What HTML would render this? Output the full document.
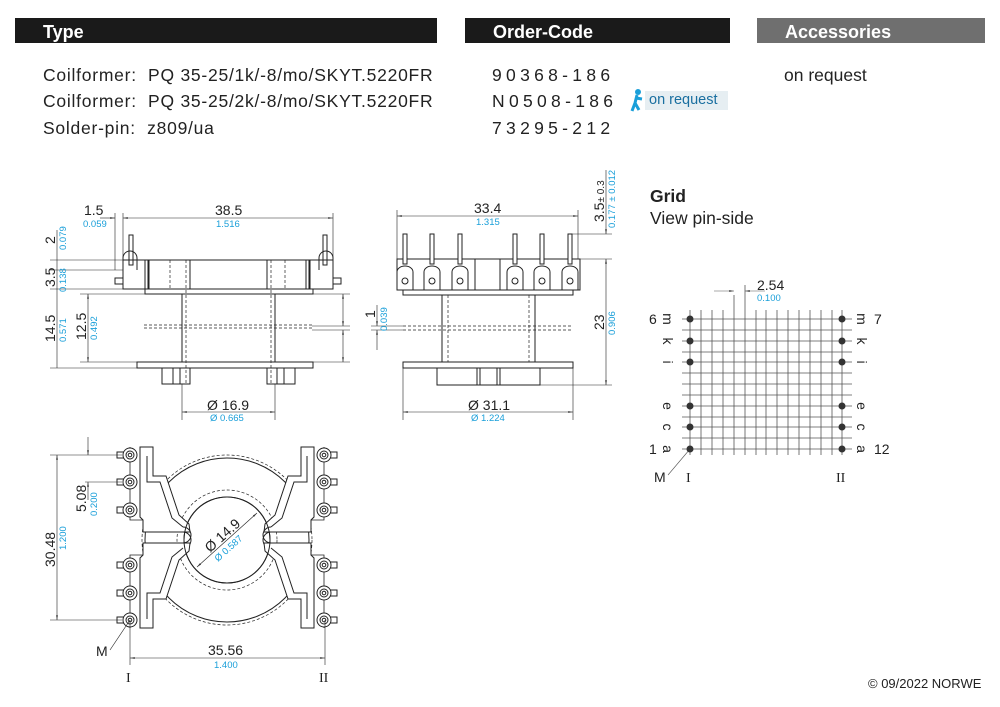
<!DOCTYPE html>
<html><head><meta charset="utf-8"><style>
html,body{margin:0;padding:0;background:#fff;}
body{width:1000px;height:707px;overflow:hidden;position:relative;font-family:"Liberation Sans",sans-serif;}
.bar{position:absolute;top:18px;height:25px;background:#1a1a1a;color:#fff;font-weight:bold;font-size:18px;line-height:28px;box-sizing:border-box;padding-left:28px;}
.t{position:absolute;font-size:17.5px;color:#222;white-space:nowrap;letter-spacing:0.75px;}
.code{letter-spacing:4.3px;}
</style></head><body>
<div class="bar" style="left:15px;width:422px;">Type</div>
<div class="bar" style="left:465px;width:265px;">Order-Code</div>
<div class="bar" style="left:757px;width:228px;background:#6f6f6f;">Accessories</div>
<div class="t" style="left:43px;top:65px;">Coilformer:&nbsp; PQ 35-25/1k/-8/mo/SKYT.5220FR</div>
<div class="t" style="left:43px;top:91px;">Coilformer:&nbsp; PQ 35-25/2k/-8/mo/SKYT.5220FR</div>
<div class="t" style="left:43px;top:118px;">Solder-pin:&nbsp; z809/ua</div>
<div class="t code" style="left:492px;top:65px;">90368-186</div>
<div class="t code" style="left:492px;top:91px;">N0508-186</div>
<div class="t code" style="left:492px;top:118px;">73295-212</div>
<div class="t" style="left:784px;top:65px;letter-spacing:0;">on request</div>
<div style="position:absolute;left:645px;top:91px;width:83px;height:19px;background:#e6eef2;color:#1a6fa0;font-size:14.5px;line-height:19px;padding-left:4px;box-sizing:border-box;">on request</div>
<svg style="position:absolute;left:627px;top:88px" width="20" height="26"><circle cx="11" cy="4" r="3" fill="#1a9fd9"/><path d="M10 7 L8 15 L5 23 M8 15 L12 22 M9 10 L15 11" stroke="#1a9fd9" stroke-width="3" fill="none"/></svg>
<div class="t" style="left:650px;top:186px;font-weight:bold;letter-spacing:0;">Grid</div>
<div class="t" style="left:650px;top:208px;letter-spacing:0;">View pin-side</div>
<div class="t" style="left:868px;top:676px;font-size:13px;letter-spacing:0;">© 09/2022 NORWE</div>

<svg style="position:absolute;left:0;top:0" width="1000" height="707" viewBox="0 0 1000 707" font-family="Liberation Sans, sans-serif">
<defs>
<marker id="a" markerWidth="8" markerHeight="6" refX="8" refY="3" orient="auto-start-reverse"><path d="M0,1.5 L8,3 L0,4.5z" fill="#333"/></marker>
</defs>
<g stroke="#222" stroke-width="1" fill="none">
<!-- SIDE VIEW -->
<line x1="123" y1="213" x2="123" y2="260" stroke-width=".6"/>
<line x1="333" y1="213" x2="333" y2="260" stroke-width=".6"/>
<line x1="115" y1="213" x2="115" y2="270" stroke-width=".6"/>
<line x1="123" y1="218" x2="333" y2="218" stroke-width=".6" marker-start="url(#a)" marker-end="url(#a)"/>
<line x1="100" y1="218" x2="115" y2="218" stroke-width=".6" marker-end="url(#a)"/>
<rect x="129" y="235" width="4" height="30"/><rect x="323" y="235" width="4" height="30"/>
<path d="M123 270 v-12 a7 7 0 0 1 14 0 v12 M319 270 v-12 a7 7 0 0 1 14 0 v12"/>
<rect x="115" y="278" width="8" height="6"/><rect x="333" y="278" width="8" height="6"/>
<rect x="123" y="260" width="210" height="29"/>
<rect x="148" y="260" width="42" height="29" fill="#fff"/><rect x="267" y="260" width="42" height="29" fill="#fff"/>
<rect x="145" y="260" width="4" height="29"/><rect x="306" y="260" width="4" height="29"/>
<rect x="145" y="289" width="168" height="5"/>
<line x1="182" y1="294" x2="182" y2="362"/><line x1="275" y1="294" x2="275" y2="362"/>
<g stroke-dasharray="3,2" stroke-width=".7"><line x1="186" y1="260" x2="186" y2="384"/><line x1="271" y1="260" x2="271" y2="384"/><line x1="144" y1="328" x2="312" y2="328"/><line x1="144" y1="325" x2="312" y2="325"/><line x1="170" y1="260" x2="170" y2="289"/><line x1="285" y1="260" x2="285" y2="289"/></g>
<rect x="137" y="362" width="176" height="6"/>
<rect x="162" y="368" width="28" height="16"/><rect x="267" y="368" width="28" height="16"/>
<line x1="173" y1="368" x2="173" y2="384"/><line x1="180" y1="368" x2="180" y2="384"/><line x1="277" y1="368" x2="277" y2="384"/><line x1="284" y1="368" x2="284" y2="384"/>
<g stroke-width=".6">
<line x1="50" y1="260" x2="123" y2="260"/><line x1="50" y1="270" x2="123" y2="270"/><line x1="50" y1="289" x2="123" y2="289"/><line x1="50" y1="368" x2="137" y2="368"/>
<line x1="57" y1="230" x2="57" y2="368"/>
<line x1="80" y1="294" x2="350" y2="294"/><line x1="80" y1="362" x2="350" y2="362"/>
<line x1="88" y1="294" x2="88" y2="362" marker-start="url(#a)" marker-end="url(#a)"/>
<line x1="343" y1="294" x2="343" y2="326" marker-start="url(#a)" marker-end="url(#a)"/>
<line x1="343" y1="330" x2="343" y2="362" marker-start="url(#a)" marker-end="url(#a)"/>
<line x1="312" y1="326" x2="350" y2="326"/><line x1="312" y1="330" x2="350" y2="330"/>
<line x1="182" y1="384" x2="182" y2="420"/><line x1="275" y1="384" x2="275" y2="420"/>
<line x1="182" y1="412" x2="275" y2="412" marker-start="url(#a)" marker-end="url(#a)"/>
</g>
<!-- FRONT VIEW -->
<g stroke-width=".6">
<line x1="397" y1="210" x2="397" y2="259"/><line x1="578" y1="210" x2="578" y2="259"/>
<line x1="397" y1="216" x2="578" y2="216" marker-start="url(#a)" marker-end="url(#a)"/>
<line x1="572" y1="234" x2="612" y2="234"/><line x1="580" y1="259" x2="612" y2="259"/><line x1="540" y1="385" x2="612" y2="385"/>
<line x1="606" y1="170" x2="606" y2="234" marker-end="url(#a)"/>
<line x1="606" y1="259" x2="606" y2="385" marker-start="url(#a)" marker-end="url(#a)"/>
<line x1="403" y1="368" x2="403" y2="420"/><line x1="573" y1="368" x2="573" y2="420"/>
<line x1="403" y1="412" x2="573" y2="412" marker-start="url(#a)" marker-end="url(#a)"/>
<line x1="371" y1="326" x2="403" y2="326"/><line x1="371" y1="330" x2="403" y2="330"/>
<line x1="377" y1="305" x2="377" y2="326" marker-end="url(#a)"/><line x1="377" y1="350" x2="377" y2="330" marker-end="url(#a)"/>
</g>
<rect x="397" y="259" width="183" height="31"/>
<g fill="#fff">
<rect x="403" y="234" width="4" height="30"/><rect x="430" y="234" width="4" height="30"/><rect x="458" y="234" width="4" height="30"/><rect x="513" y="234" width="4" height="30"/><rect x="540" y="234" width="4" height="30"/><rect x="568" y="234" width="4" height="30"/>
<path d="M397 290 v-18 a8 6 0 0 1 16 0 v18z M424 290 v-18 a8 6 0 0 1 16 0 v18z M452 290 v-18 a8 6 0 0 1 16 0 v18z M507 290 v-18 a8 6 0 0 1 16 0 v18z M534 290 v-18 a8 6 0 0 1 16 0 v18z M562 290 v-18 a8 6 0 0 1 16 0 v18z"/>
</g>
<g><circle cx="405" cy="281" r="3"/><circle cx="432" cy="281" r="3"/><circle cx="460" cy="281" r="3"/><circle cx="515" cy="281" r="3"/><circle cx="542" cy="281" r="3"/><circle cx="570" cy="281" r="3"/></g>
<line x1="475" y1="259" x2="475" y2="290"/><line x1="500" y1="259" x2="500" y2="290"/>
<rect x="403" y="290" width="170" height="5"/>
<line x1="442" y1="295" x2="442" y2="362"/><line x1="535" y1="295" x2="535" y2="362"/>
<g stroke-dasharray="3,2" stroke-width=".7"><line x1="448" y1="295" x2="448" y2="362"/><line x1="529" y1="295" x2="529" y2="362"/><line x1="403" y1="326" x2="573" y2="326"/><line x1="403" y1="330" x2="573" y2="330"/></g>
<rect x="403" y="362" width="170" height="6"/>
<rect x="437" y="368" width="103" height="17"/>
<line x1="477" y1="368" x2="477" y2="385"/><line x1="480" y1="368" x2="480" y2="385"/><line x1="497" y1="368" x2="497" y2="385"/><line x1="500" y1="368" x2="500" y2="385"/>
<!-- GRID -->
<g stroke="#555" stroke-width=".8">
<line x1="690" y1="310" x2="690" y2="455"/><line x1="701" y1="310" x2="701" y2="455"/><line x1="712" y1="310" x2="712" y2="455"/><line x1="723" y1="310" x2="723" y2="455"/><line x1="734" y1="295" x2="734" y2="455"/><line x1="745" y1="285" x2="745" y2="455"/><line x1="756" y1="310" x2="756" y2="455"/><line x1="766" y1="310" x2="766" y2="455"/><line x1="777" y1="310" x2="777" y2="455"/><line x1="788" y1="310" x2="788" y2="455"/><line x1="799" y1="310" x2="799" y2="455"/><line x1="810" y1="310" x2="810" y2="455"/><line x1="821" y1="310" x2="821" y2="455"/><line x1="832" y1="310" x2="832" y2="455"/><line x1="842" y1="310" x2="842" y2="455"/>
<line x1="682" y1="319" x2="852" y2="319"/><line x1="682" y1="330" x2="852" y2="330"/><line x1="682" y1="341" x2="852" y2="341"/><line x1="682" y1="352" x2="852" y2="352"/><line x1="682" y1="362" x2="852" y2="362"/><line x1="682" y1="373" x2="852" y2="373"/><line x1="682" y1="384" x2="852" y2="384"/><line x1="682" y1="395" x2="852" y2="395"/><line x1="682" y1="406" x2="852" y2="406"/><line x1="682" y1="417" x2="852" y2="417"/><line x1="682" y1="427" x2="852" y2="427"/><line x1="682" y1="438" x2="852" y2="438"/><line x1="682" y1="449" x2="852" y2="449"/>
<line x1="714" y1="291" x2="734" y2="291" stroke-width=".6" marker-end="url(#a)"/><line x1="765" y1="291" x2="745" y2="291" stroke-width=".6" marker-end="url(#a)"/>
<line x1="690" y1="449" x2="668" y2="475" stroke-width=".6"/>
</g>
<g fill="#333" stroke="none"><circle cx="690" cy="319" r="3.5"/><circle cx="690" cy="341" r="3.5"/><circle cx="690" cy="362" r="3.5"/><circle cx="690" cy="406" r="3.5"/><circle cx="690" cy="427" r="3.5"/><circle cx="690" cy="449" r="3.5"/><circle cx="842" cy="319" r="3.5"/><circle cx="842" cy="341" r="3.5"/><circle cx="842" cy="362" r="3.5"/><circle cx="842" cy="406" r="3.5"/><circle cx="842" cy="427" r="3.5"/><circle cx="842" cy="449" r="3.5"/></g>
<!-- BOTTOM VIEW -->
<circle cx="227" cy="540" r="82"/>
<circle cx="227" cy="540" r="43" fill="#fff"/>
<g stroke-dasharray="3,2" stroke-width=".7"><circle cx="227" cy="540" r="85"/><circle cx="227" cy="540" r="50"/></g>
<g id="q" fill="#fff">
<path d="M140 447 H153 V476 H166 L179 515 L189 524 L190 532 H143 V520 L140 517 Z"/>
<path d="M147 456 V482 H160 L172 518 L183 527" fill="none"/>
<path d="M130 447 V520 L143 520" fill="none" stroke-width=".8"/>
<path d="M183 532 A5 5 0 0 1 183 548" fill="none"/>
<rect x="117" y="452" width="7" height="6"/><rect x="117" y="479" width="7" height="6"/><rect x="117" y="507" width="7" height="6"/>
<circle cx="130" cy="455" r="7"/><circle cx="130" cy="455" r="4"/><circle cx="130" cy="455" r="1.8"/>
<circle cx="130" cy="482" r="7"/><circle cx="130" cy="482" r="4"/><circle cx="130" cy="482" r="1.8"/>
<circle cx="130" cy="510" r="7"/><circle cx="130" cy="510" r="4"/><circle cx="130" cy="510" r="1.8"/>
</g>
<use href="#q" transform="translate(454,0) scale(-1,1)"/>
<use href="#q" transform="translate(0,1075) scale(1,-1)"/>
<use href="#q" transform="translate(454,1075) scale(-1,-1)"/>
<circle cx="227" cy="540" r="43"/>
<g stroke-width=".6">
<line x1="197" y1="567" x2="257" y2="513" marker-start="url(#a)" marker-end="url(#a)"/>
<line x1="50" y1="455" x2="122" y2="455"/><line x1="50" y1="620" x2="122" y2="620"/>
<line x1="57" y1="455" x2="57" y2="620" marker-start="url(#a)" marker-end="url(#a)"/>
<line x1="85" y1="482" x2="122" y2="482"/>
<line x1="88" y1="437" x2="88" y2="455" marker-end="url(#a)"/><line x1="88" y1="500" x2="88" y2="482" marker-end="url(#a)"/>
<line x1="130" y1="620" x2="130" y2="665"/><line x1="325" y1="620" x2="325" y2="665"/>
<line x1="130" y1="658" x2="325" y2="658" marker-start="url(#a)" marker-end="url(#a)"/>
<line x1="110" y1="650" x2="130" y2="620"/>
</g>
</g>
<g font-size="14" fill="#222">
<text x="84" y="215">1.5</text><text x="215" y="215">38.5</text>
<text x="207" y="410">Ø 16.9</text>
<text x="474" y="213">33.4</text>
<text x="468" y="410">Ø 31.1</text>
<text x="757" y="290">2.54</text>
<text x="208" y="655">35.56</text>
<text x="96" y="656">M</text><text x="654" y="482">M</text>
<text x="649" y="324">6</text><text x="874" y="324">7</text><text x="649" y="454">1</text><text x="874" y="454">12</text>
<text transform="translate(55,244) rotate(-90)">2</text>
<text transform="translate(55,287) rotate(-90)">3.5</text>
<text transform="translate(55,342) rotate(-90)">14.5</text>
<text transform="translate(86,340) rotate(-90)">12.5</text>
<text transform="translate(375,318) rotate(-90)">1</text>
<text transform="translate(604,330) rotate(-90)">23</text>
<text transform="translate(604,222) rotate(-90)">3.5<tspan font-size="10">± 0.3</tspan></text>
<text transform="translate(55,567) rotate(-90)">30.48</text>
<text transform="translate(86,512) rotate(-90)">5.08</text>
<text transform="translate(210,553) rotate(-42)">Ø 14.9</text>
<g text-anchor="middle">
<text transform="translate(668,319) rotate(90)" dy="5">m</text>
<text transform="translate(668,341) rotate(90)" dy="5">k</text>
<text transform="translate(668,362) rotate(90)" dy="5">i</text>
<text transform="translate(668,406) rotate(90)" dy="5">e</text>
<text transform="translate(668,427) rotate(90)" dy="5">c</text>
<text transform="translate(668,449) rotate(90)" dy="5">a</text>
<text transform="translate(862,319) rotate(90)" dy="5">m</text>
<text transform="translate(862,341) rotate(90)" dy="5">k</text>
<text transform="translate(862,362) rotate(90)" dy="5">i</text>
<text transform="translate(862,406) rotate(90)" dy="5">e</text>
<text transform="translate(862,427) rotate(90)" dy="5">c</text>
<text transform="translate(862,449) rotate(90)" dy="5">a</text>
</g>
<text x="686" y="482" font-family="Liberation Serif, serif">I</text><text x="836" y="482" font-family="Liberation Serif, serif">II</text>
<text x="126" y="682" font-family="Liberation Serif, serif">I</text><text x="319" y="682" font-family="Liberation Serif, serif">II</text>
</g>
<g font-size="9.5" fill="#1a9fd9">
<text x="83" y="227">0.059</text><text x="216" y="227">1.516</text>
<text x="210" y="421">Ø 0.665</text>
<text x="476" y="225">1.315</text>
<text x="471" y="421">Ø 1.224</text>
<text x="757" y="301">0.100</text>
<text x="214" y="668">1.400</text>
<text transform="translate(66,250) rotate(-90)">0.079</text>
<text transform="translate(66,292) rotate(-90)">0.138</text>
<text transform="translate(66,342) rotate(-90)">0.571</text>
<text transform="translate(97,340) rotate(-90)">0.492</text>
<text transform="translate(387,331) rotate(-90)">0.039</text>
<text transform="translate(615,335) rotate(-90)">0.906</text>
<text transform="translate(615,228) rotate(-90)">0.177 ± 0.012</text>
<text transform="translate(66,550) rotate(-90)">1.200</text>
<text transform="translate(97,516) rotate(-90)">0.200</text>
<text transform="translate(218,562) rotate(-42)">Ø 0.587</text>
</g>
</svg>
</body></html>
